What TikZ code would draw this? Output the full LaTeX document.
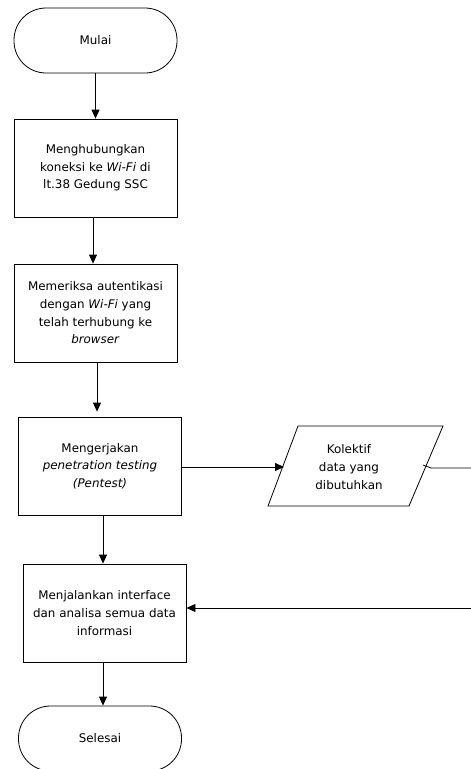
\documentclass[tikz,border=0pt]{standalone}
\usepackage{fontspec}
\setmainfont{DejaVu Sans}
\usetikzlibrary{arrows.meta}
\begin{document}
\begin{tikzpicture}[x=1pt,y=-1pt,
  every node/.style={font=\fontsize{11.9}{17.7}\selectfont, align=center, inner sep=0pt},
  term/.style={draw, line width=0.8pt, rounded corners=32pt, minimum width=163pt, minimum height=65pt},
  procbox/.style={draw, line width=0.8pt, minimum width=163pt, minimum height=98pt},
  arr/.style={line width=0.8pt, -{Triangle[length=9pt,width=8pt]}},
  flow/.style={line width=0.8pt}
]
\clip (0,0) rectangle (471,769);
\fill[white] (0,0) rectangle (471,769);

\node[term] (m) at (95.5,40.5) {Mulai};
\node[procbox] (b1) at (95.5,168) {Menghubungkan\\koneksi ke \textit{Wi-Fi} di\\lt.38 Gedung SSC};
\node[procbox] (b2) at (95.5,313) {Memeriksa autentikasi\\dengan \textit{Wi-Fi} yang\\telah terhubung ke\\\textit{browser}};
\node[procbox] (b3) at (100,466) {Mengerjakan\\\textit{penetration testing}\\\textit{(Pentest)}};
\node[procbox] (b4) at (104.5,613) {Menjalankan interface\\dan analisa semua data\\informasi};
\node[term] (s) at (100,738.5) {Selesai};

% parallelogram
\coordinate (kbl) at (268,506);
\coordinate (kbr) at (409,506);
\coordinate (ktr) at (443,426);
\coordinate (ktl) at (298,426);
\draw[line width=0.8pt] (kbl) -- (ktl) -- (ktr) -- (kbr) -- cycle;
\node (k) at (349,467) {Kolektif\\data yang\\dibutuhkan};
\coordinate (kin) at (284,467);
\coordinate (kout) at (423,465);
\coordinate (kbend) at (431,468);
\coordinate (far) at (485,468);
\coordinate (farlow) at (485,608);

\draw[arr] (m.south) -- (b1.north);
\draw[arr] ([xshift=-2.5pt]b1.south) -- ([xshift=-2.5pt]b2.north);
\draw[arr, shorten >=5pt] ([xshift=1.5pt]b2.south) -- ([xshift=-3pt]b3.north);
\draw[arr] ([xshift=3pt]b3.south) -- ([xshift=-1.5pt]b4.north);
\draw[arr] ([xshift=-1.5pt]b4.south) -- ([xshift=3pt]s.north);
\draw[arr] (b3.east |- kin) -- (kin);
\draw[flow] (kout) -- (kbend) -- (far) -- (farlow);
\draw[arr] (farlow) -- ([yshift=5pt]b4.east);
\end{tikzpicture}
\end{document}
